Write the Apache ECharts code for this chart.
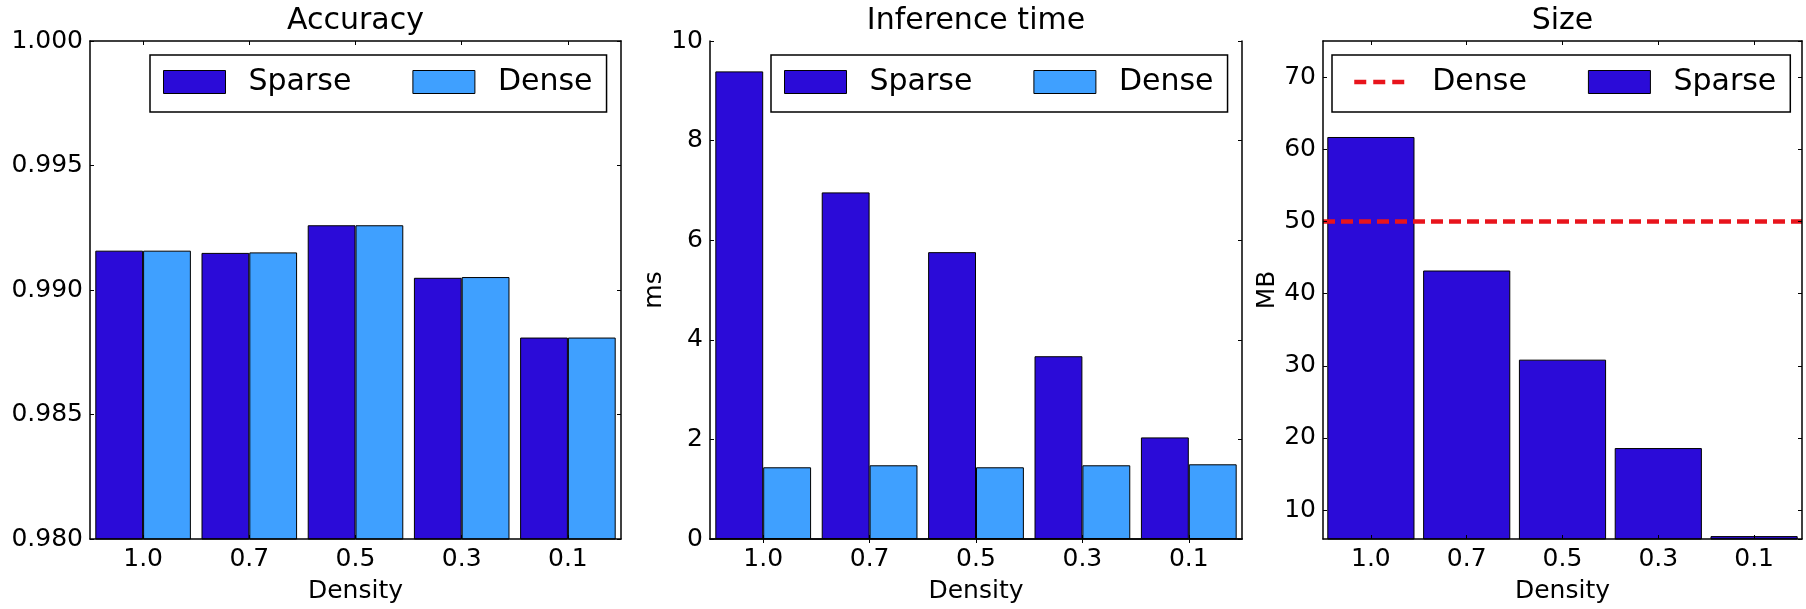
<!DOCTYPE html>
<html><head><meta charset="utf-8">
<script src="https://cdn.jsdelivr.net/npm/echarts@6/dist/echarts.min.js"></script>
<style>html,body{margin:0;padding:0;background:#fff}#c{width:1806px;height:609px}</style>
</head><body><div id="c"></div>
<script>
// ---- data ----
const categories = ['1.0', '0.7', '0.5', '0.3', '0.1'];
const accuracySparse = [0.99158, 0.99149, 0.99260, 0.99049, 0.98809];
const accuracyDense  = [0.99158, 0.99151, 0.99260, 0.99052, 0.98809];
const timeSparse = [9.39, 6.96, 5.76, 3.67, 2.04];
const timeDense  = [1.44, 1.48, 1.44, 1.48, 1.50];
const sizeSparse = [61.7, 43.2, 30.85, 18.6, 6.4];
const sizeDense = 50;
const titles = ['Accuracy', 'Inference time', 'Size'];
const xName = 'Density';
const yNames = ['', 'ms', 'MB'];

// ---- style ----
const FONT = 'DejaVu Sans';
const SPARSE_COLOR = '#2B0BD8';
const DENSE_COLOR = '#3FA0FF';
const RED = '#E8141C';

const grids = [
  { left: 90, top: 41, width: 531, height: 504 },
  { left: 710, top: 41, width: 532, height: 504 },
  { left: 1323, top: 41, width: 479, height: 504 }
];
const yRanges = [
  { min: 0.98, max: 1.0, interval: 0.005, fmt: v => v.toFixed(3) },
  { min: 0, max: 10, interval: 2, fmt: v => String(v) },
  { min: 6, max: 75, splitNumber: 7, fmt: v => String(v), hideEnds: true }
];

const lineSt = { color: '#000', width: 1.5 };
const tickSt = { show: true, inside: true, length: 4, lineStyle: { color: '#000', width: 1 } };
const labelFont = { fontFamily: FONT, fontSize: 25, color: '#000' };

const xAxes = [], yAxes = [];
grids.forEach((g, i) => {
  xAxes.push({
    type: 'category', gridIndex: i, position: 'bottom', data: categories, z: 10,
    axisLine: { show: true, lineStyle: lineSt },
    axisTick: Object.assign({ alignWithLabel: true }, tickSt),
    axisLabel: Object.assign({ margin: 8 }, labelFont),
    splitLine: { show: false },
    name: xName, nameLocation: 'middle', nameGap: 40,
    nameTextStyle: labelFont
  });
  xAxes.push({
    type: 'category', gridIndex: i, position: 'top', data: categories, z: 10,
    axisLine: { show: true, lineStyle: lineSt },
    axisTick: Object.assign({ alignWithLabel: true }, tickSt),
    axisLabel: { show: false }, splitLine: { show: false }
  });
  const r = yRanges[i];
  const base = { type: 'value', gridIndex: i, min: r.min, max: r.max, z: 10, splitLine: { show: false } };
  if (r.interval) base.interval = r.interval;
  if (r.splitNumber) base.splitNumber = r.splitNumber;
  yAxes.push(Object.assign({}, base, {
    position: 'left',
    axisLine: { show: true, lineStyle: lineSt },
    axisTick: tickSt,
    axisLabel: Object.assign({ margin: 7, formatter: r.fmt, showMinLabel: !r.hideEnds, showMaxLabel: !r.hideEnds }, labelFont),
    name: yNames[i], nameLocation: 'middle', nameGap: 43, nameRotate: 90,
    nameTextStyle: labelFont
  }));
  yAxes.push(Object.assign({}, base, {
    position: 'right',
    axisLine: { show: true, lineStyle: lineSt },
    axisTick: tickSt,
    axisLabel: { show: false }
  }));
});

function barSeries(name, data, color, idx, catGap) {
  return {
    type: 'bar', name: name, data: data, xAxisIndex: idx * 2, yAxisIndex: idx * 2,
    barGap: '0%', barCategoryGap: catGap, clip: true,
    itemStyle: { color: color, borderColor: '#000', borderWidth: 1 }
  };
}

const series = [
  barSeries('Sparse', accuracySparse, SPARSE_COLOR, 0, '10%'),
  barSeries('Dense', accuracyDense, DENSE_COLOR, 0, '10%'),
  barSeries('Sparse', timeSparse, SPARSE_COLOR, 1, '10%'),
  barSeries('Dense', timeDense, DENSE_COLOR, 1, '10%'),
  barSeries('Sparse_MB', sizeSparse, SPARSE_COLOR, 2, '9%'),
  {
    type: 'line', name: 'Dense_MB', data: [], xAxisIndex: 4, yAxisIndex: 4, z: 5,
    symbol: 'none', color: RED,
    itemStyle: { color: RED },
    lineStyle: { color: RED, width: 4.5, type: [12, 7], cap: 'butt' },
    markLine: {
      silent: true, symbol: ['none', 'none'], animation: false,
      label: { show: false },
      lineStyle: { color: RED, width: 4.5, type: [12, 6], cap: 'butt' },
      data: [{ yAxis: sizeDense }]
    }
  }
];

const legendBase = {
  top: 55, orient: 'horizontal', padding: [12, 14, 15, 13], itemGap: 61,
  itemWidth: 62, itemHeight: 23, borderColor: '#000', borderWidth: 1.5,
  backgroundColor: '#fff', selectedMode: false,
  itemStyle: { borderColor: '#000', borderWidth: 1 },
  formatter: n => n.replace('_MB', ''),
  textStyle: { fontSize: 30, fontFamily: FONT, color: '#000', padding: [0, 0, 0, 18], lineHeight: 30 }
};
const legends = [
  Object.assign({}, legendBase, { left: 150, data: [{ name: 'Sparse', icon: 'rect' }, { name: 'Dense', icon: 'rect' }] }),
  Object.assign({}, legendBase, { left: 771, data: [{ name: 'Sparse', icon: 'rect' }, { name: 'Dense', icon: 'rect' }] }),
  Object.assign({}, legendBase, { left: 1332, data: [
    { name: 'Dense_MB', itemStyle: { opacity: 0 },
      lineStyle: { color: RED, width: 4.5, type: [12, 7], dashOffset: 12, cap: 'butt' } },
    { name: 'Sparse_MB', icon: 'rect' }
  ] })
];

const titleOpts = titles.map((t, i) => ({
  text: t, left: grids[i].left + grids[i].width / 2, top: 6, textAlign: 'center', padding: 0,
  textStyle: { fontSize: 30, fontWeight: 'normal', color: '#000', fontFamily: FONT }
}));

const chart = echarts.init(document.getElementById('c'), null, { renderer: 'canvas' });
chart.setOption({
  animation: false,
  backgroundColor: '#fff',
  textStyle: { fontFamily: FONT },
  title: titleOpts,
  legend: legends,
  grid: grids,
  xAxis: xAxes,
  yAxis: yAxes,
  series: series
});
</script>
</body></html>
